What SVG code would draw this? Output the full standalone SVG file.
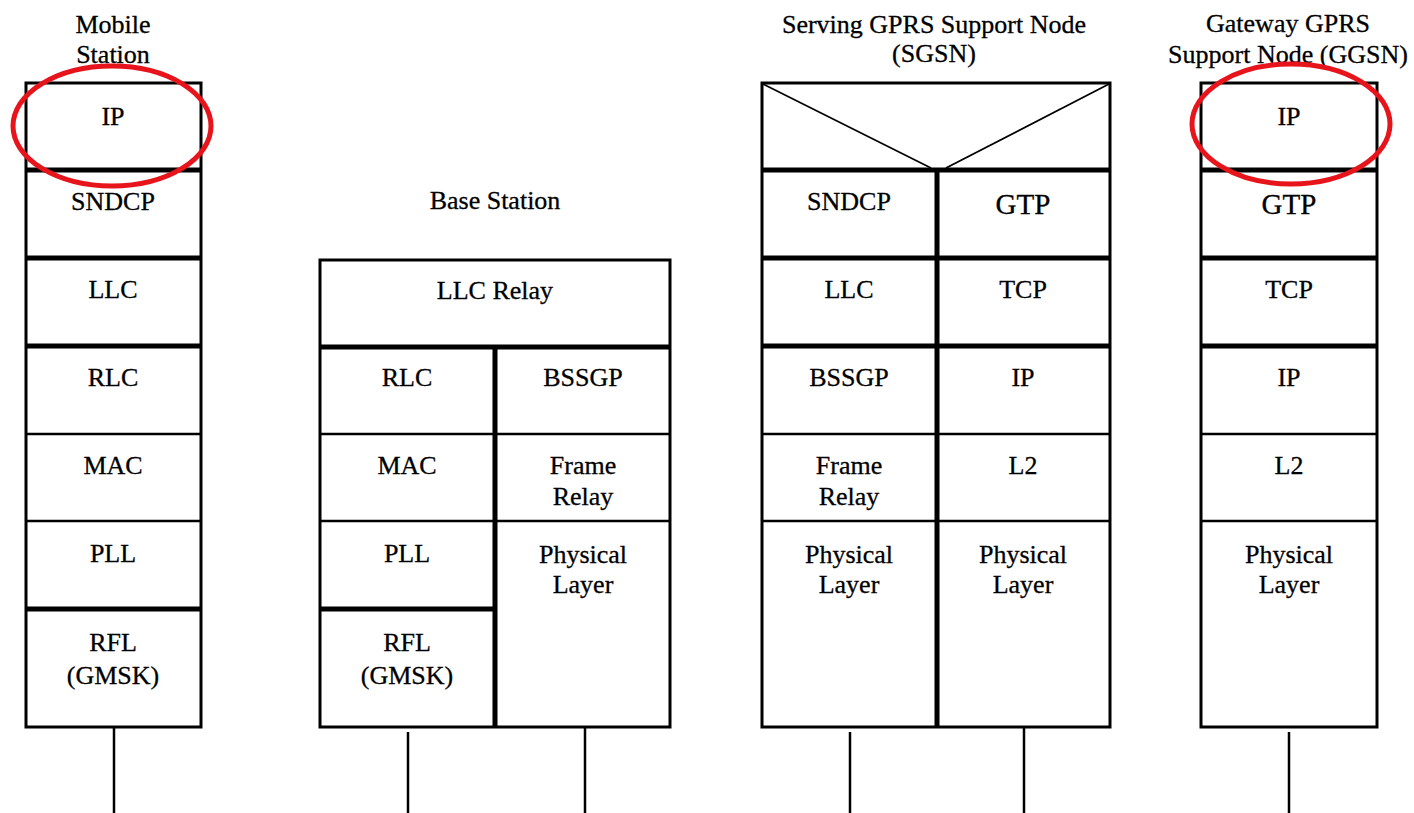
<svg xmlns="http://www.w3.org/2000/svg" width="1414" height="813" viewBox="0 0 1414 813">
<style>
text{font-family:"Liberation Serif","Times New Roman",serif;font-size:26px;fill:#000;text-anchor:middle;stroke:#000;stroke-width:0.3}
.big{font-size:29px}
.box{fill:#fff;stroke:#000;stroke-width:3}
.thick{stroke:#000;stroke-width:5}
.thin{stroke:#000;stroke-width:2.5}
.diag{stroke:#000;stroke-width:1.8}
.wire{stroke:#000;stroke-width:2.5}
.hl{fill:none;stroke:#e8141b;stroke-width:5}
</style>
<rect width="1414" height="813" fill="#fff"/>

<g id="mobile-station">
<text x="113" y="33">Mobile</text>
<text x="113" y="63">Station</text>
<rect class="box" x="26" y="83" width="175" height="644"/>
<line class="thick" x1="26" y1="170" x2="201" y2="170"/>
<line class="thick" x1="26" y1="258" x2="201" y2="258"/>
<line class="thick" x1="26" y1="346" x2="201" y2="346"/>
<line class="thin" x1="26" y1="434" x2="201" y2="434"/>
<line class="thin" x1="26" y1="521" x2="201" y2="521"/>
<line class="thick" x1="26" y1="609" x2="201" y2="609"/>
<text x="113" y="125">IP</text>
<text x="113" y="210">SNDCP</text>
<text x="113" y="298">LLC</text>
<text x="113" y="386">RLC</text>
<text x="113" y="474">MAC</text>
<text x="113" y="562">PLL</text>
<text x="113" y="651">RFL</text>
<text x="113" y="684">(GMSK)</text>
<ellipse class="hl" cx="112" cy="126" rx="99" ry="60"/>
</g>

<g id="base-station">
<text x="495" y="209">Base Station</text>
<rect class="box" x="320" y="260" width="350" height="467"/>
<line class="thick" x1="320" y1="347" x2="670" y2="347"/>
<line class="thick" x1="495" y1="347" x2="495" y2="727"/>
<line class="thin" x1="320" y1="434" x2="670" y2="434"/>
<line class="thin" x1="320" y1="521" x2="670" y2="521"/>
<line class="thick" x1="320" y1="609" x2="495" y2="609"/>
<text x="495" y="299">LLC Relay</text>
<text x="407" y="386">RLC</text>
<text x="583" y="386">BSSGP</text>
<text x="407" y="474">MAC</text>
<text x="583" y="474">Frame</text>
<text x="583" y="505">Relay</text>
<text x="407" y="562">PLL</text>
<text x="583" y="563">Physical</text>
<text x="583" y="593">Layer</text>
<text x="407" y="651">RFL</text>
<text x="407" y="684">(GMSK)</text>
</g>

<g id="sgsn">
<text x="934" y="33">Serving GPRS Support Node</text>
<text x="934" y="62">(SGSN)</text>
<rect class="box" x="762" y="83" width="348" height="644"/>
<line class="diag" x1="763" y1="84" x2="931" y2="168"/>
<line class="diag" x1="1109" y1="84" x2="946" y2="168"/>
<line class="thick" x1="762" y1="170" x2="1110" y2="170"/>
<line class="thick" x1="937" y1="170" x2="937" y2="727"/>
<line class="thick" x1="762" y1="258" x2="1110" y2="258"/>
<line class="thick" x1="762" y1="346" x2="1110" y2="346"/>
<line class="thin" x1="762" y1="434" x2="1110" y2="434"/>
<line class="thin" x1="762" y1="521" x2="1110" y2="521"/>
<text x="849" y="210">SNDCP</text>
<text class="big" x="1023" y="214">GTP</text>
<text x="849" y="298">LLC</text>
<text x="1023" y="298">TCP</text>
<text x="849" y="386">BSSGP</text>
<text x="1023" y="386">IP</text>
<text x="849" y="474">Frame</text>
<text x="849" y="505">Relay</text>
<text x="1023" y="474">L2</text>
<text x="849" y="563">Physical</text>
<text x="849" y="593">Layer</text>
<text x="1023" y="563">Physical</text>
<text x="1023" y="593">Layer</text>
</g>

<g id="ggsn">
<text x="1288" y="32">Gateway GPRS</text>
<text x="1288" y="63">Support Node (GGSN)</text>
<rect class="box" x="1201" y="83" width="176" height="644"/>
<line class="thick" x1="1201" y1="170" x2="1377" y2="170"/>
<line class="thick" x1="1201" y1="258" x2="1377" y2="258"/>
<line class="thick" x1="1201" y1="346" x2="1377" y2="346"/>
<line class="thin" x1="1201" y1="434" x2="1377" y2="434"/>
<line class="thin" x1="1201" y1="521" x2="1377" y2="521"/>
<text x="1289" y="125">IP</text>
<text class="big" x="1289" y="214">GTP</text>
<text x="1289" y="298">TCP</text>
<text x="1289" y="386">IP</text>
<text x="1289" y="474">L2</text>
<text x="1289" y="563">Physical</text>
<text x="1289" y="593">Layer</text>
<ellipse class="hl" cx="1291" cy="124" rx="99" ry="60"/>
</g>

<g id="connectors">
<line class="wire" x1="114" y1="727" x2="114" y2="813"/>
<line class="wire" x1="408" y1="732" x2="408" y2="813"/>
<line class="wire" x1="585" y1="727" x2="585" y2="813"/>
<line class="wire" x1="850" y1="732" x2="850" y2="813"/>
<line class="wire" x1="1024" y1="727" x2="1024" y2="813"/>
<line class="wire" x1="1289" y1="732" x2="1289" y2="813"/>
</g>
</svg>
